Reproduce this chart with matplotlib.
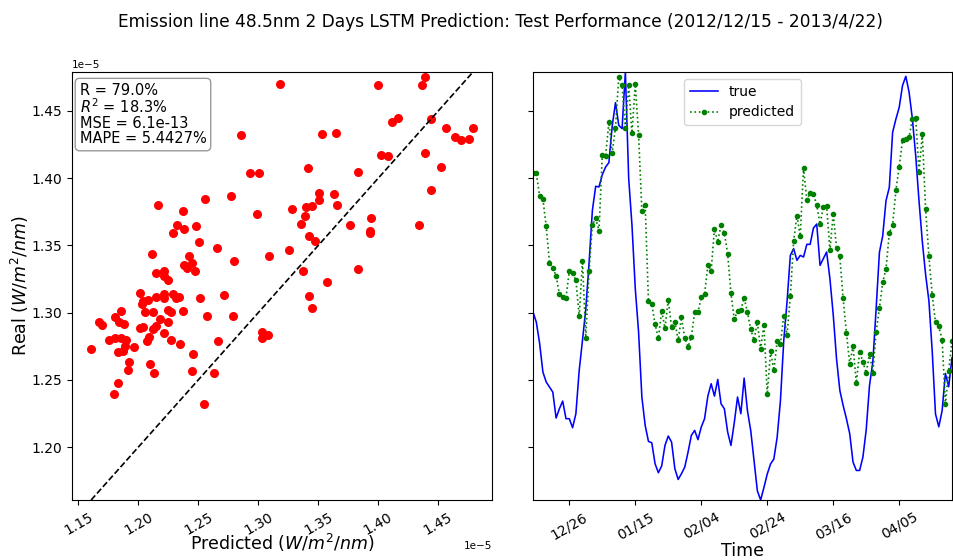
import numpy as np
import pandas as pd
import matplotlib
matplotlib.use('Agg')
from matplotlib import pyplot as plt
import matplotlib.dates as mdates

# daily test window, values in units of 1e-5 W/m^2/nm
start_date = '2012-12-15'
true_vals = [
    1.3004, 1.2930, 1.2773, 1.2558, 1.2484, 1.2446, 1.2409, 1.2216, 1.2285, 1.2342,
    1.2211, 1.2211, 1.2144, 1.2248, 1.2570, 1.2794, 1.3027, 1.3373, 1.3761, 1.3940,
    1.3935, 1.4026, 1.4083, 1.4116, 1.4386, 1.4562, 1.4393, 1.4369, 1.4790, 1.4000,
    1.3649, 1.3180, 1.2856, 1.2372, 1.2161, 1.2042, 1.2032, 1.1876, 1.1809, 1.1859,
    1.2012, 1.2082, 1.2037, 1.1839, 1.1759, 1.1802, 1.1851, 1.1963, 1.2087, 1.2124,
    1.2055, 1.2149, 1.2211, 1.2379, 1.2471, 1.2379, 1.2503, 1.2322, 1.2285, 1.2112,
    1.2012, 1.2180, 1.2372, 1.2248, 1.2513, 1.2270, 1.2122, 1.1898, 1.1675, 1.1606,
    1.1700, 1.1799, 1.1874, 1.1911, 1.2072, 1.2345, 1.2791, 1.3079, 1.3426, 1.3476,
    1.3389, 1.3426, 1.3414, 1.3508, 1.3508, 1.3629, 1.3659, 1.3352, 1.3401, 1.3451,
    1.3252, 1.2985, 1.2657, 1.2422, 1.2310, 1.2211, 1.2099, 1.1888, 1.1826, 1.1826,
    1.1926, 1.2129, 1.2459, 1.2632, 1.3027, 1.3448, 1.3572, 1.3833, 1.3932, 1.4341,
    1.4440, 1.4527, 1.4689, 1.4758, 1.4639, 1.4440, 1.4168, 1.3832, 1.3530, 1.3284,
    1.3088, 1.2714, 1.2246, 1.2151, 1.2270, 1.2548, 1.2449, 1.2664,
]
pred_vals = [
    1.4041, 1.4041, 1.3868, 1.3843, 1.3644, 1.3372, 1.3332, 1.3275, 1.3136, 1.3114,
    1.3109, 1.3310, 1.3292, 1.3243, 1.2972, 1.3384, 1.2814, 1.3310, 1.3654, 1.3701,
    1.3610, 1.4170, 1.4165, 1.4416, 1.4190, 1.4376, 1.4751, 1.4693, 1.4376, 1.4691,
    1.4336, 1.4698, 1.4324, 1.3758, 1.3803, 1.3086, 1.3066, 1.2913, 1.2809, 1.3014,
    1.2885, 1.3096, 1.2890, 1.2933, 1.2794, 1.2965, 1.2811, 1.2747, 1.2821, 1.3002,
    1.3002, 1.3116, 1.3136, 1.3354, 1.3312, 1.3625, 1.3525, 1.3654, 1.3592, 1.3439,
    1.3143, 1.2952, 1.3012, 1.3019, 1.3111, 1.3002, 1.2875, 1.2796, 1.2930, 1.2727,
    1.2910, 1.2392, 1.2712, 1.2570, 1.2786, 1.2769, 1.2977, 1.2836, 1.3121, 1.3533,
    1.3721, 1.3570, 1.4076, 1.3840, 1.3890, 1.3882, 1.3801, 1.3659, 1.3783, 1.3791,
    1.3463, 1.3736, 1.3483, 1.3419, 1.3106, 1.2851, 1.2618, 1.2752, 1.2476, 1.2709,
    1.2632, 1.2551, 1.2694, 1.2551, 1.2856, 1.3034, 1.3225, 1.3327, 1.3592, 1.3654,
    1.3910, 1.4086, 1.4282, 1.4289, 1.4309, 1.4438, 1.4450, 1.4046, 1.4329, 1.3771,
    1.3419, 1.3133, 1.2928, 1.2898, 1.2799, 1.2317, 1.2568, 1.2786,
]
tick_dates = ['2012-12-26', '2013-01-15', '2013-02-04', '2013-02-24', '2013-03-16', '2013-04-05']
stats_text = 'R = 79.0%\n$R^2$ = 18.3%\nMSE = 6.1e-13\nMAPE = 5.4427%'
title = 'Emission line 48.5nm 2 Days LSTM Prediction: Test Performance (2012/12/15 - 2013/4/22)'

y_true = np.array(true_vals) * 1e-5
y_pred = np.array(pred_vals) * 1e-5
dates = pd.date_range(start_date, periods=len(y_true), freq='D')
lo, hi = y_true.min(), y_true.max()

fig = plt.figure(figsize=(9.54, 5.6), dpi=100)
ax1 = fig.add_axes([0.0755, 0.1071, 0.4403, 0.7643])
ax2 = fig.add_axes([0.5587, 0.1071, 0.4392, 0.7643], sharey=ax1)

# scatter of the two series against each other
ax1.scatter(y_true, y_pred, c='r', s=30)
ax1.plot([lo, hi], [lo, hi], 'k--', lw=1.2)
ax1.set_ylim(lo, hi)
ax1.set_xlabel('Predicted ($W/m^2/nm$)', fontsize=12.5, labelpad=-4)
ax1.set_ylabel('Real ($W/m^2/nm$)', fontsize=12.5, labelpad=0.5)
ax1.tick_params(axis='x', labelrotation=30)
ax1.tick_params(labelsize=10)
ax1.xaxis.offsetText.set_fontsize(7.5)
ax1.yaxis.offsetText.set_fontsize(7.5)
ax1.text(0.018, 0.975, stats_text, transform=ax1.transAxes, fontsize=10.5,
         va='top', ha='left', linespacing=1.0,
         bbox=dict(boxstyle='round', facecolor='white', edgecolor='gray', alpha=0.8))

# time series
ax2.plot(dates, y_true, 'b-', lw=1.15, label='true')
ax2.plot(dates, y_pred, 'g:', marker='.', markersize=6, lw=1.2, label='predicted')
ax2.set_xlim(dates[0], dates[-1])
ax2.set_xticks(pd.to_datetime(tick_dates))
ax2.xaxis.set_major_formatter(mdates.DateFormatter('%m/%d'))
ax2.tick_params(axis='x', labelrotation=30)
ax2.tick_params(labelsize=10)
plt.setp(ax2.get_yticklabels(), visible=False)
ax2.yaxis.offsetText.set_visible(False)
ax2.set_xlabel('Time', fontsize=12.5, labelpad=0)
ax2.legend(loc='upper center', fontsize=10)

fig.suptitle(title, fontsize=12.25, x=0.525, y=0.977)
fig.savefig('out.png', dpi=100)
